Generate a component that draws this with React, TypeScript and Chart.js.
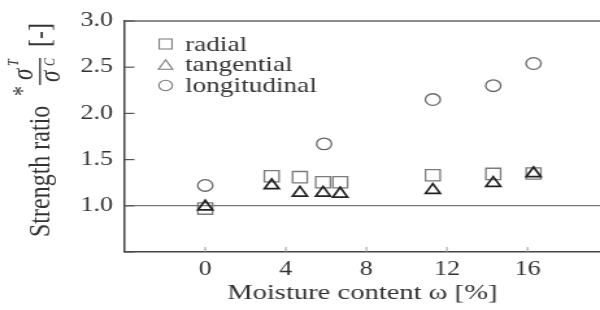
import React, { useEffect, useRef } from "react";
import { Chart, registerables } from "chart.js";
import { drawPoint } from "chart.js/helpers";

Chart.register(...registerables);

// ---- data ----
const radialX = [0, 3.3, 4.7, 5.85, 6.7, 11.3, 14.3, 16.3];
const radialY = [0.97, 1.32, 1.31, 1.255, 1.255, 1.33, 1.345, 1.35];
const tangentialX = [0, 3.3, 4.7, 5.85, 6.7, 11.3, 14.3, 16.3];
const tangentialY = [0.99, 1.22, 1.14, 1.14, 1.13, 1.17, 1.245, 1.35];
const longitudinalX = [0, 5.9, 11.3, 14.3, 16.3];
const longitudinalY = [1.22, 1.67, 2.15, 2.3, 2.54];
const xTicks = [0, 4, 8, 12, 16];
const yTicks = [0.5, 1.0, 1.5, 2.0, 2.5, 3.0];
const seriesLabels = ["radial", "tangential", "longitudinal"];
const xTitle = "Moisture content ω [%]";

const FONT = '"Liberation Serif", "DejaVu Serif", serif';
const STRETCH = 600 / 462;
const W = 462;
const H = 310;

const pts = (xs: number[], ys: number[]) => xs.map((x, i) => ({ x, y: ys[i] }));

const framePlugin = {
  id: "frame",
  beforeDatasetsDraw(chart: any) {
    const { ctx, chartArea: a, scales } = chart;
    ctx.save();
    ctx.strokeStyle = "#666";
    ctx.lineWidth = 1.5;
    ctx.beginPath();
    ctx.moveTo(a.left, a.top);
    ctx.lineTo(a.right, a.top);
    ctx.stroke();
    ctx.strokeStyle = "#555";
    ctx.lineWidth = 1.2;
    scales.y.ticks.forEach((t: any) => {
      const py = scales.y.getPixelForValue(t.value);
      ctx.beginPath();
      ctx.moveTo(a.left, py);
      ctx.lineTo(a.left + 7.5, py);
      ctx.stroke();
    });
    ctx.strokeStyle = "#999";
    ctx.lineWidth = 1;
    scales.x.ticks.forEach((t: any) => {
      const px = scales.x.getPixelForValue(t.value);
      ctx.beginPath();
      ctx.moveTo(px, a.bottom);
      ctx.lineTo(px, a.bottom - 5);
      ctx.stroke();
    });
    ctx.restore();
  },
};

const legendPlugin = {
  id: "innerLegend",
  afterDraw(chart: any) {
    const { ctx, chartArea: a } = chart;
    const rows = [23, 43.5, 64.5];
    const radii = [7, 6.3, 5.2];
    ctx.save();
    chart.data.datasets.forEach((ds: any, i: number) => {
      const cy = a.top + rows[i];
      const cx = a.left + 31.5;
      ctx.strokeStyle = "#777";
      ctx.fillStyle = "rgba(0,0,0,0)";
      ctx.lineWidth = 1.1;
      const off = ds.pointStyle === "triangle" ? radii[i] / 4 : 0;
      drawPoint(ctx, { pointStyle: ds.pointStyle, radius: radii[i], rotation: 0, borderWidth: 1.1 }, cx, cy + off);
      ctx.fillStyle = "#333";
      ctx.font = `21px ${FONT}`;
      ctx.textBaseline = "alphabetic";
      ctx.textAlign = "left";
      ctx.fillText(ds.label, a.left + 46.5, cy + 6.5);
    });
    ctx.restore();
  },
};

const yTitlePlugin = {
  id: "yTitle",
  afterDraw(chart: any) {
    const ctx = chart.ctx;
    const rot = (text: string, x: number, y: number, font: string) => {
      ctx.save();
      ctx.translate(x, y);
      ctx.rotate(-Math.PI / 2);
      ctx.font = font;
      ctx.fillStyle = "#333";
      ctx.textBaseline = "alphabetic";
      ctx.textAlign = "left";
      ctx.fillText(text, 0, 0);
      ctx.restore();
    };
    rot("Strength ratio", 37.7, 237, `24px ${FONT}`);
    rot("*", 23.6, 96, `20px ${FONT}`);
    rot("σ", 25.4, 80, `italic 23px ${FONT}`);
    rot("T", 13.5, 66, `italic 12px ${FONT}`);
    rot("σ", 46, 82, `italic 23px ${FONT}`);
    rot("C", 41.5, 66, `italic 12px ${FONT}`);
    rot("[-]", 38, 47, `24px ${FONT}`);
    ctx.save();
    ctx.strokeStyle = "#333";
    ctx.lineWidth = 1.3;
    ctx.beginPath();
    ctx.moveTo(30.8, 58);
    ctx.lineTo(30.8, 85);
    ctx.stroke();
    ctx.restore();
  },
};

export default function App() {
  const ref = useRef<HTMLCanvasElement | null>(null);
  useEffect(() => {
    document.body.style.margin = "0";
    if (!ref.current) return;
    const chart = new Chart(ref.current, {
      type: "scatter",
      data: {
        datasets: [
          {
            label: seriesLabels[0],
            data: pts(radialX, radialY),
            pointStyle: "rect",
            pointRadius: 8,
            pointBorderWidth: 1.3,
            pointBorderColor: "#7a7a7a",
            pointBackgroundColor: "rgba(0,0,0,0)",
            order: 2,
          },
          {
            label: seriesLabels[1],
            data: pts(tangentialX, tangentialY),
            pointStyle: "triangle",
            pointRadius: 6.5,
            pointBorderWidth: 1.7,
            pointBorderColor: "#222",
            pointBackgroundColor: "rgba(0,0,0,0)",
            order: 1,
          },
          {
            label: seriesLabels[2],
            data: pts(longitudinalX, longitudinalY),
            pointStyle: "circle",
            pointRadius: 5.8,
            pointBorderWidth: 1.3,
            pointBorderColor: "#666",
            pointBackgroundColor: "rgba(0,0,0,0)",
            order: 3,
          },
        ],
      },
      options: {
        animation: false,
        responsive: false,
        events: [],
        layout: { padding: { top: 19, left: 0, right: 0, bottom: 0 }, autoPadding: false },
        plugins: { legend: { display: false }, tooltip: { enabled: false } },
        scales: {
          x: {
            type: "linear",
            min: -4,
            max: 19.6,
            afterFit: (s: any) => {
              s.height = 58;
            },
            afterBuildTicks: (s: any) => {
              s.ticks = xTicks.map((v) => ({ value: v }));
            },
            grid: { drawOnChartArea: false, drawTicks: false },
            border: { display: true, color: "#444", width: 1.5 },
            ticks: {
              padding: 6,
              color: "#333",
              font: { family: FONT, size: 20 },
              callback: (v: any) => String(v),
            },
            title: {
              display: true,
              text: xTitle,
              color: "#333",
              font: { family: FONT, size: 22 },
              padding: { top: 0, bottom: 4 },
            },
          },
          y: {
            type: "linear",
            min: 0.5,
            max: 3.0,
            afterFit: (s: any) => {
              s.width = 96;
            },
            afterBuildTicks: (s: any) => {
              s.ticks = yTicks.map((v) => ({ value: v }));
            },
            grid: {
              drawTicks: false,
              color: (c: any) => (c.tick && Math.abs(c.tick.value - 1) < 1e-9 ? "#777" : "rgba(0,0,0,0)"),
              lineWidth: 1.3,
            },
            border: { display: true, color: "#444", width: 1.5 },
            ticks: {
              padding: 9,
              color: "#333",
              font: { family: FONT, size: 20 },
              callback: (v: any) => (Math.abs(v - 0.5) < 1e-9 ? "" : Number(v).toFixed(1)),
            },
          },
        },
      },
      plugins: [framePlugin, legendPlugin, yTitlePlugin],
    } as any);
    let alive = true;
    const fs: any = (document as any).fonts;
    if (fs && fs.load) {
      Promise.all([
        fs.load('20px "Liberation Serif"'),
        fs.load('italic 20px "Liberation Serif"'),
      ])
        .then(() => {
          if (alive) chart.update();
        })
        .catch(() => {});
    }
    return () => {
      alive = false;
      chart.destroy();
    };
  }, []);
  return (
    <div style={{ width: 600, height: H, overflow: "hidden", background: "#fff" }}>
      <span style={{ fontFamily: '"Liberation Serif"', position: "absolute", left: -9999, top: 0 }}>
        a<i>a</i>
      </span>
      <div style={{ width: W, height: H, transform: `scaleX(${STRETCH})`, transformOrigin: "0 0" }}>
        <canvas ref={ref} width={W} height={H} style={{ width: W, height: H, display: "block" }} />
      </div>
    </div>
  );
}
